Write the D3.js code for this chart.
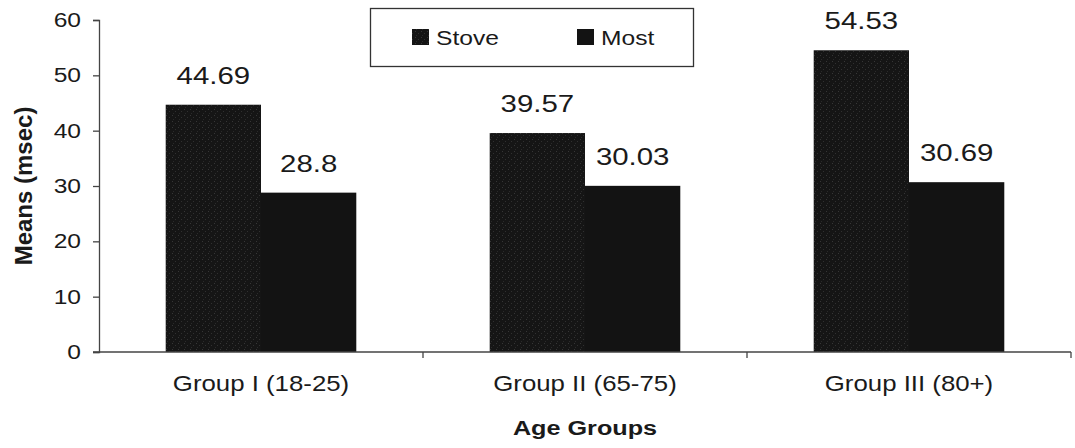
<!DOCTYPE html>
<html>
<head>
<meta charset="utf-8">
<script src="https://cdn.jsdelivr.net/npm/d3@7"></script>
<style>
  html, body { margin: 0; padding: 0; background: #fff; }
  svg { display: block; font-family: "Liberation Sans", Arial, sans-serif; }
</style>
</head>
<body>
<svg id="chart" width="1075" height="448"></svg>
<script>
// Mean response times by age group
const groups = ["Group I (18-25)", "Group II (65-75)", "Group III (80+)"];
const series = ["Stove", "Most"];
const stoveValues = [44.69, 39.57, 54.53];
const mostValues = [28.8, 30.03, 30.69];
const yTicks = [0, 10, 20, 30, 40, 50, 60];

const valuesBySeries = { Stove: stoveValues, Most: mostValues };
const rows = groups.map((g, i) => ({ group: g, values: series.map(s => ({ key: s, value: valuesBySeries[s][i] })) }));

const svg = d3.select("#chart");
const margin = { left: 99, right: 4, top: 20, bottom: 96 };
const W = 1075, H = 448;
const SX = 1.2; // horizontal text stretch

const x0 = d3.scaleBand().domain(groups).range([margin.left, W - margin.right]).padding(0);
const x1 = d3.scaleBand().domain(series).range([0, x0.bandwidth()]).paddingInner(0).paddingOuter(0.7);
const y = d3.scaleLinear().domain([0, 60]).range([H - margin.bottom, margin.top]);

// Speckled fill for the Stove bars
const defs = svg.append("defs");
const pat = defs.append("pattern").attr("id", "speckle").attr("patternUnits", "userSpaceOnUse")
  .attr("width", 6).attr("height", 6);
pat.append("rect").attr("width", 6).attr("height", 6).attr("fill", "#151515");
pat.append("rect").attr("x", 1).attr("y", 1).attr("width", 1).attr("height", 1).attr("fill", "#363636");
pat.append("rect").attr("x", 4).attr("y", 3).attr("width", 1).attr("height", 1).attr("fill", "#303030");
pat.append("rect").attr("x", 2).attr("y", 5).attr("width", 1).attr("height", 1).attr("fill", "#2a2a2a");

const fills = { Stove: "url(#speckle)", Most: "#131313" };

function stretchedText(sel, x, yy, txt, size, weight, anchor) {
  return sel.append("text")
    .attr("transform", `translate(${x},${yy}) scale(${SX},1)`)
    .attr("text-anchor", anchor || "middle")
    .attr("font-size", size)
    .attr("font-weight", weight || "normal")
    .attr("fill", "#1a1a1a")
    .text(txt);
}

// Bars
const gGroups = svg.append("g").selectAll("g").data(rows).join("g")
  .attr("transform", d => `translate(${x0(d.group)},0)`);
gGroups.selectAll("rect").data(d => d.values).join("rect")
  .attr("x", d => x1(d.key))
  .attr("y", d => y(d.value))
  .attr("width", x1.bandwidth())
  .attr("height", d => y(0) - y(d.value))
  .attr("fill", d => fills[d.key]);

// Value labels
gGroups.each(function(d) {
  const g = d3.select(this);
  d.values.forEach(v => {
    stretchedText(g, x1(v.key) + x1.bandwidth() / 2, y(v.value) - 21, String(v.value), 24.5);
  });
});

// Y axis
const yAxis = d3.axisLeft(y).tickValues(yTicks).tickSize(6).tickPadding(13);
const gy = svg.append("g").attr("transform", `translate(${margin.left},0)`).call(yAxis);
gy.select(".domain").attr("stroke", "#444").attr("stroke-width", 1.3);
gy.selectAll(".tick line").attr("stroke", "#444").attr("stroke-width", 1.3);
gy.selectAll(".tick text").each(function(d) {
  const ty = y(d);
  d3.select(this).remove();
  stretchedText(gy, 0, 0, String(d), 20.5, "normal", "end")
    .attr("transform", `translate(-18,${ty + 7}) scale(${SX},1)`);
});

// X axis
const gx = svg.append("g").attr("transform", `translate(0,${y(0)})`);
gx.append("line").attr("x1", margin.left - 6).attr("x2", W - margin.right)
  .attr("stroke", "#444").attr("stroke-width", 1.3);
const xBounds = groups.map(g => x0(g) + x0.bandwidth());
gx.selectAll("line.tk").data(xBounds).join("line").attr("class", "tk")
  .attr("x1", d => d).attr("x2", d => d).attr("y1", 0).attr("y2", 6)
  .attr("stroke", "#444").attr("stroke-width", 1.3);
groups.forEach(g => {
  stretchedText(svg, x0(g) + x0.bandwidth() / 2, 391, g, 21.5);
});

// Axis titles
stretchedText(svg, x0(groups[1]) + x0.bandwidth() / 2, 435, "Age Groups", 21, "bold");
svg.append("text")
  .attr("transform", `translate(32,${(y(0) + y(60)) / 2}) rotate(-90)`)
  .attr("text-anchor", "middle").attr("font-size", 24).attr("font-weight", "bold")
  .attr("fill", "#1a1a1a").text("Means (msec)");

// Legend
const legend = svg.append("g");
legend.append("rect").attr("x", 370.5).attr("y", 8.5).attr("width", 323).attr("height", 58)
  .attr("fill", "#fff").attr("stroke", "#333").attr("stroke-width", 1.3);
const legendX = [412, 577];
series.forEach((s, i) => {
  legend.append("rect").attr("x", legendX[i]).attr("y", 29).attr("width", 17).attr("height", 16)
    .attr("fill", fills[s]);
  stretchedText(legend, legendX[i] + 24, 45, s, 20.5, "normal", "start");
});
</script>
</body>
</html>
